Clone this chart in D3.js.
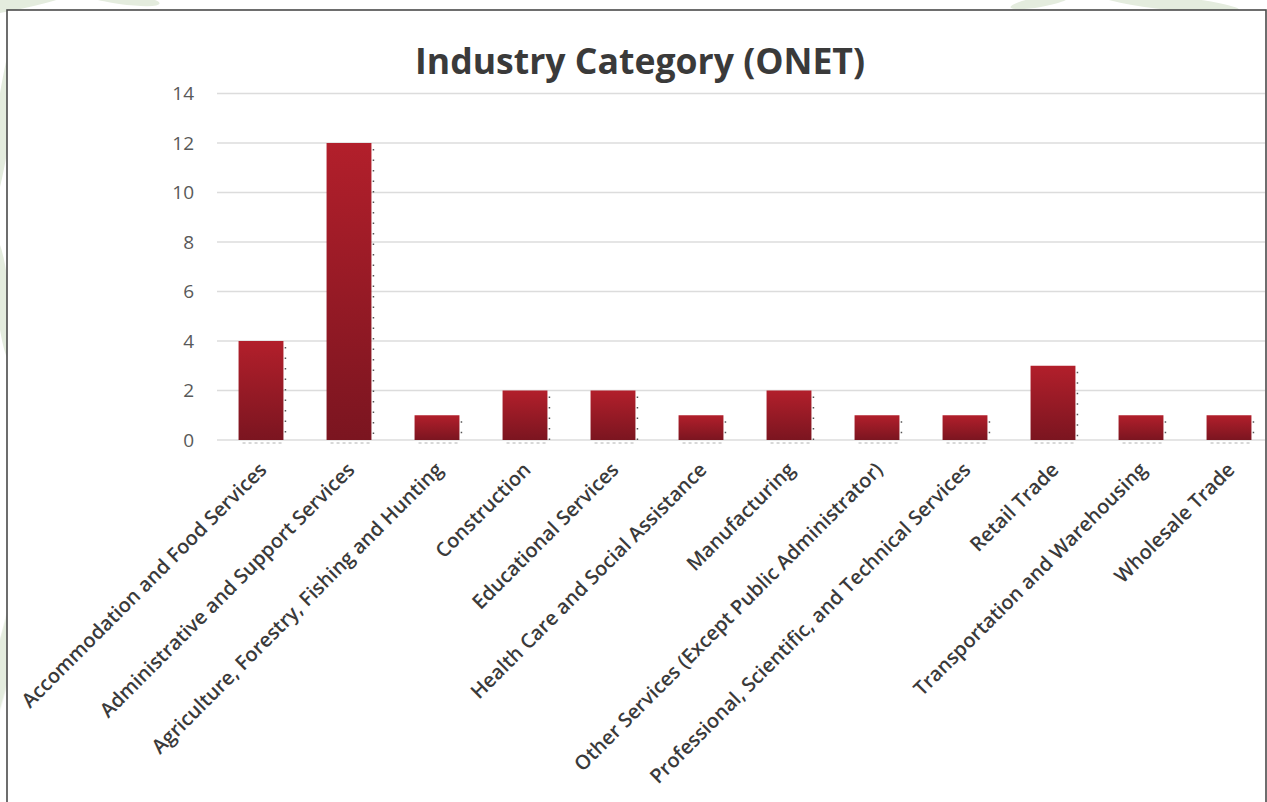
<!DOCTYPE html>
<html>
<head>
<meta charset="utf-8">
<script src="https://cdn.jsdelivr.net/npm/d3@7"></script>
<style>
  html, body { margin: 0; padding: 0; background: #ffffff; }
  svg { display: block; }
</style>
</head>
<body>
<svg id="chart" width="1267" height="802"></svg>
<script>
// Industry categories (O*NET) and the number of records in each
const categories = [
  "Accommodation and Food Services",
  "Administrative and Support Services",
  "Agriculture, Forestry, Fishing and Hunting",
  "Construction",
  "Educational Services",
  "Health Care and Social Assistance",
  "Manufacturing",
  "Other Services (Except Public Administrator)",
  "Professional, Scientific, and Technical Services",
  "Retail Trade",
  "Transportation and Warehousing",
  "Wholesale Trade"
];
const counts = [4, 12, 1, 2, 2, 1, 2, 1, 1, 3, 1, 1];
const yTicks = [0, 2, 4, 6, 8, 10, 12, 14];
const chartTitle = "Industry Category (ONET)";

const W = 1267, H = 802;
const frame = { left: 7, top: 10, right: 1266, bottom: 812 };
const plot = { left: 217, right: 1273, top: 93.5, bottom: 440 };

const svg = d3.select("#chart");
const defs = svg.append("defs");

// soft foliage pattern behind the card
const leaves = svg.append("g").attr("fill", "#c9d8bd").attr("opacity", 0.5);
[
  [20, 2, 60, 7, -12], [4, 120, 8, 90, 8], [3, 300, 7, 60, -6],
  [4, 660, 9, 120, 14], [120, -2, 40, 6, 8], [1170, 3, 70, 7, 6],
  [1040, 2, 30, 5, -10]
].forEach(([cx, cy, rx, ry, a]) => {
  leaves.append("ellipse")
    .attr("cx", cx).attr("cy", cy).attr("rx", rx).attr("ry", ry)
    .attr("transform", `rotate(${a},${cx},${cy})`);
});

// chart card
svg.append("rect")
  .attr("x", frame.left).attr("y", frame.top)
  .attr("width", frame.right - frame.left)
  .attr("height", frame.bottom - frame.top)
  .attr("fill", "#ffffff")
  .attr("stroke", "#4a4a4a").attr("stroke-width", 1.6);

defs.append("clipPath").attr("id", "card-clip")
  .append("rect")
  .attr("x", frame.left + 1).attr("y", frame.top + 1)
  .attr("width", frame.right - frame.left - 2)
  .attr("height", frame.bottom - frame.top - 2);

const grad = defs.append("linearGradient")
  .attr("id", "bar-fill").attr("x1", 0).attr("y1", 0).attr("x2", 0).attr("y2", 1);
grad.append("stop").attr("offset", "0%").attr("stop-color", "#b21f2b");
grad.append("stop").attr("offset", "100%").attr("stop-color", "#7b1520");

const x = d3.scaleBand()
  .domain(categories)
  .range([plot.left, plot.right])
  .paddingInner(0.49)
  .paddingOuter(0.245);

const y = d3.scaleLinear()
  .domain([0, 14])
  .range([plot.bottom, plot.top]);

const g = svg.append("g").attr("clip-path", "url(#card-clip)");

// horizontal gridlines
g.append("g").selectAll("line")
  .data(yTicks)
  .join("line")
  .attr("x1", plot.left).attr("x2", plot.right)
  .attr("y1", d => y(d)).attr("y2", d => y(d))
  .attr("stroke", "#dcdcdc").attr("stroke-width", 1.6);

// bars
const bars = g.append("g").selectAll("g")
  .data(categories.map((c, i) => ({ c, v: counts[i] })))
  .join("g");

bars.append("rect")
  .attr("x", d => x(d.c))
  .attr("y", d => y(d.v))
  .attr("width", x.bandwidth())
  .attr("height", d => y(0) - y(d.v))
  .attr("fill", "url(#bar-fill)");

// faint dotted shadow along the right edge and foot of each bar
bars.append("line")
  .attr("x1", d => x(d.c) + x.bandwidth() + 2)
  .attr("x2", d => x(d.c) + x.bandwidth() + 2)
  .attr("y1", d => y(d.v) + 6)
  .attr("y2", y(0))
  .attr("stroke", "#555555").attr("stroke-width", 1.5)
  .attr("stroke-dasharray", "1.5,9");
bars.append("line")
  .attr("x1", d => x(d.c) + 4)
  .attr("x2", d => x(d.c) + x.bandwidth())
  .attr("y1", y(0) + 3).attr("y2", y(0) + 3)
  .attr("stroke", "#b0b0b0").attr("stroke-width", 1)
  .attr("stroke-dasharray", "3,3");

// y axis labels
const yAxis = svg.append("g")
  .attr("transform", `translate(${plot.left},0)`)
  .call(d3.axisLeft(y).tickValues(yTicks).tickSize(0).tickPadding(23));
yAxis.select(".domain").remove();
yAxis.selectAll("text")
  .attr("font-family", "'Open Sans', sans-serif")
  .attr("font-size", 19)
  .attr("fill", "#595959");

// x axis labels, slanted
const xAxis = svg.append("g")
  .attr("transform", `translate(0,${plot.bottom})`)
  .call(d3.axisBottom(x).tickSize(0));
xAxis.select(".domain").remove();
xAxis.selectAll("text")
  .attr("font-family", "'Open Sans', sans-serif")
  .attr("font-size", 20)
  .attr("font-weight", 600)
  .attr("fill", "#3a3a3a")
  .attr("text-anchor", "end")
  .attr("x", 0).attr("y", 0).attr("dy", 0)
  .attr("transform", "translate(7,31) rotate(-45)");

// title
svg.append("text")
  .attr("x", 640).attr("y", 74)
  .attr("text-anchor", "middle")
  .attr("font-family", "'Open Sans', sans-serif")
  .attr("font-size", 35)
  .attr("font-weight", 700)
  .attr("fill", "#3a3a3a")
  .attr("textLength", 450)
  .attr("lengthAdjust", "spacingAndGlyphs")
  .text(chartTitle);
</script>
</body>
</html>
